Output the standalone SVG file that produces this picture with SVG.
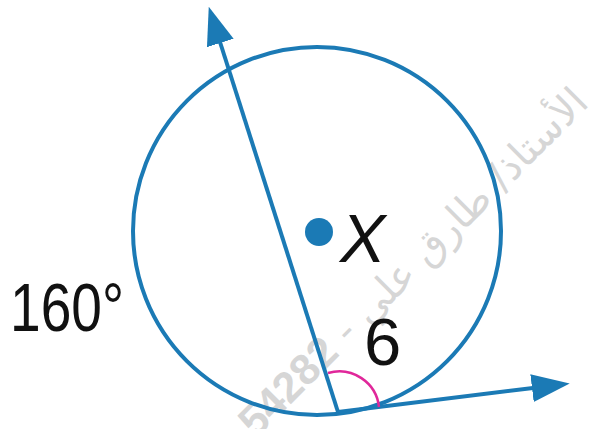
<svg xmlns="http://www.w3.org/2000/svg" width="598" height="429" viewBox="0 0 598 429">
<style>
.blue{stroke:#1b7ab5;stroke-width:4;fill:none}
.lbl{font-family:"Liberation Sans",Arial,sans-serif;fill:#111}
.wm{font-family:"DejaVu Sans","Noto Sans",sans-serif;fill:#d6d6d6}
</style>
<defs>
<marker id="arr" markerUnits="userSpaceOnUse" markerWidth="42" markerHeight="32" viewBox="0 -16 42 32" refX="1" refY="0" orient="auto">
<path d="M0,-14 L38,0 L0,14 z" fill="#1b7ab5"/>
</marker>
</defs>
<rect width="598" height="429" fill="#fff"/>
<g id="watermark">
<text class="wm" font-size="40" transform="translate(256,439) rotate(-45)" direction="rtl" text-anchor="end" x="0" y="0">الأستاذ/ طارق علي - <tspan font-family="Liberation Sans, sans-serif" font-weight="bold" font-size="43">54282</tspan></text>
</g>
<g id="circle">
<circle class="blue" cx="317" cy="231" r="184"/>
</g>
<g id="center">
<circle cx="319" cy="232" r="14" fill="#1b7ab5"/>
<text class="lbl" x="340" y="262" font-size="68" font-style="italic">X</text>
</g>
<g id="connectors">
<line class="blue" x1="338" y1="412" x2="220" y2="42" marker-end="url(#arr)"/>
<line class="blue" x1="338" y1="412" x2="533" y2="388" marker-end="url(#arr)"/>
<path d="M328,373 A40,40 0 0 1 379,407" fill="none" stroke="#e0279a" stroke-width="2.5"/>
</g>
<g id="labels">
<text class="lbl" x="10" y="331" font-size="69" textLength="114" lengthAdjust="spacingAndGlyphs">160°</text>
<text class="lbl" x="364" y="365" font-size="67">6</text>
</g>
</svg>
